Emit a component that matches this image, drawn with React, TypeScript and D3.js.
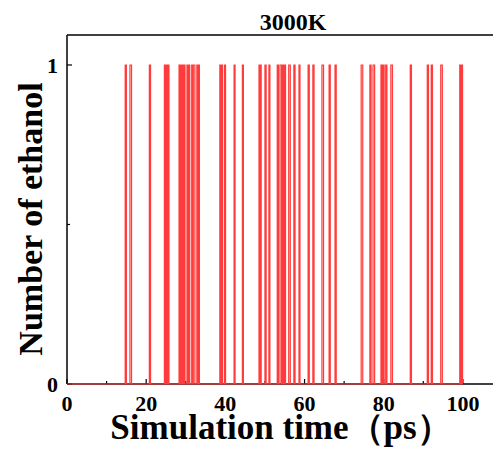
import React from "react";
import * as d3 from "d3";

// Time intervals (ps) in which one ethanol molecule is present
const spikeStart = [
  14.7, 15.9, 20.8, 24.6, 25.1, 25.5,
  28.3, 28.7, 29.1, 29.5, 30.3, 30.7, 31.5, 31.9, 32.8, 33.2,
  38.6, 39.0, 39.8, 42.2, 44.3, 48.5, 48.8, 50.0, 51.0,
  53.1, 53.8, 54.5, 54.9, 56.0, 57.3, 58.6, 60.9, 62.1, 64.4,
  66.2, 67.7, 74.3, 76.5, 77.3, 79.3, 79.8, 80.5, 81.8, 86.7,
  91.0, 92.0, 94.4, 99.2, 99.6,
];
const spikeEnd = [
  15.0, 16.3, 21.1, 24.9, 25.4, 25.75,
  28.6, 29.0, 29.4, 29.8, 30.6, 31.0, 31.8, 32.3, 33.1, 33.45,
  38.9, 39.3, 40.05, 42.45, 44.55, 48.75, 49.05, 50.3, 51.25,
  53.4, 54.2, 54.8, 55.2, 56.4, 57.6, 58.85, 61.2, 62.4, 64.8,
  66.5, 68.0, 74.7, 76.8, 77.7, 79.6, 80.1, 80.8, 82.2, 87.0,
  91.3, 92.3, 94.8, 99.5, 99.9,
];

const xTicks = [0, 20, 40, 60, 80, 100];
const xMinorTicks = [10, 30, 50, 70, 90];
const yTicks = [0, 1];
const yMinorTicks = [0.5];
const tStart = 0;
const tEnd = 100;

const W = 494;
const H = 450;
const left = 67;
const right = 493;
const top = 35;
const bottom = 384;
const FONT = '"Times New Roman", "Liberation Serif", serif';

export default function App() {
  const x = d3.scaleLinear().domain([0, 107.6]).range([left, right]);
  const y = d3.scaleLinear().domain([0, 1.094]).range([bottom, top]);

  const pts: [number, number][] = [[tStart, 0]];
  spikeStart.forEach((s, i) => {
    pts.push([s, 1]);
    pts.push([spikeEnd[i], 0]);
  });
  pts.push([tEnd, 0]);

  const line = d3
    .line<[number, number]>()
    .x((d) => x(d[0]))
    .y((d) => y(d[1]))
    .curve(d3.curveStepAfter);

  return (
    <svg width={W} height={H} style={{ display: "block", position: "absolute", left: 0, top: 0 }}>
      <rect x={0} y={0} width={W} height={H} fill="#fff" />
      {/* frame */}
      <line x1={left} x2={right} y1={top} y2={top} stroke="#000" strokeWidth={1.5} />
      <line x1={left} x2={left} y1={top} y2={bottom} stroke="#000" strokeWidth={1.5} />
      <line x1={left} x2={right} y1={bottom} y2={bottom} stroke="#000" strokeWidth={1.5} />
      {xTicks.map((t) => (
        <g key={"xt" + t}>
          <line x1={x(t)} x2={x(t)} y1={bottom} y2={bottom - 5} stroke="#000" strokeWidth={1.2} />
          <text
            x={x(t)}
            y={411}
            textAnchor="middle"
            fontFamily={FONT}
            fontWeight="bold"
            fontSize={22}
          >
            {t}
          </text>
        </g>
      ))}
      {xMinorTicks.map((t) => (
        <line key={"xm" + t} x1={x(t)} x2={x(t)} y1={bottom} y2={bottom - 3} stroke="#000" strokeWidth={1.2} />
      ))}
      {yTicks.map((t) => (
        <g key={"yt" + t}>
          <line x1={left} x2={left + 5} y1={y(t)} y2={y(t)} stroke="#000" strokeWidth={1.2} />
          <text
            x={58}
            y={y(t) + 8}
            textAnchor="end"
            fontFamily={FONT}
            fontWeight="bold"
            fontSize={22}
          >
            {t}
          </text>
        </g>
      ))}
      {yMinorTicks.map((t) => (
        <line key={"ym" + t} x1={left} x2={left + 3} y1={y(t)} y2={y(t)} stroke="#000" strokeWidth={1.2} />
      ))}
      <path d={line(pts) || ""} fill="none" stroke="#ff3b3b" strokeWidth={1.2} />
      <text x={293} y={30} textAnchor="middle" fontFamily={FONT} fontWeight="bold" fontSize={24}>
        3000K
      </text>
      <text
        transform={`translate(42,219) rotate(-90)`}
        textAnchor="middle"
        fontFamily={FONT}
        fontWeight="bold"
        fontSize={34}
      >
        Number of ethanol
      </text>
      <text x={281} y={439} textAnchor="middle" fontFamily={FONT} fontWeight="bold" fontSize={35}>
        Simulation time（ps）
      </text>
    </svg>
  );
}
